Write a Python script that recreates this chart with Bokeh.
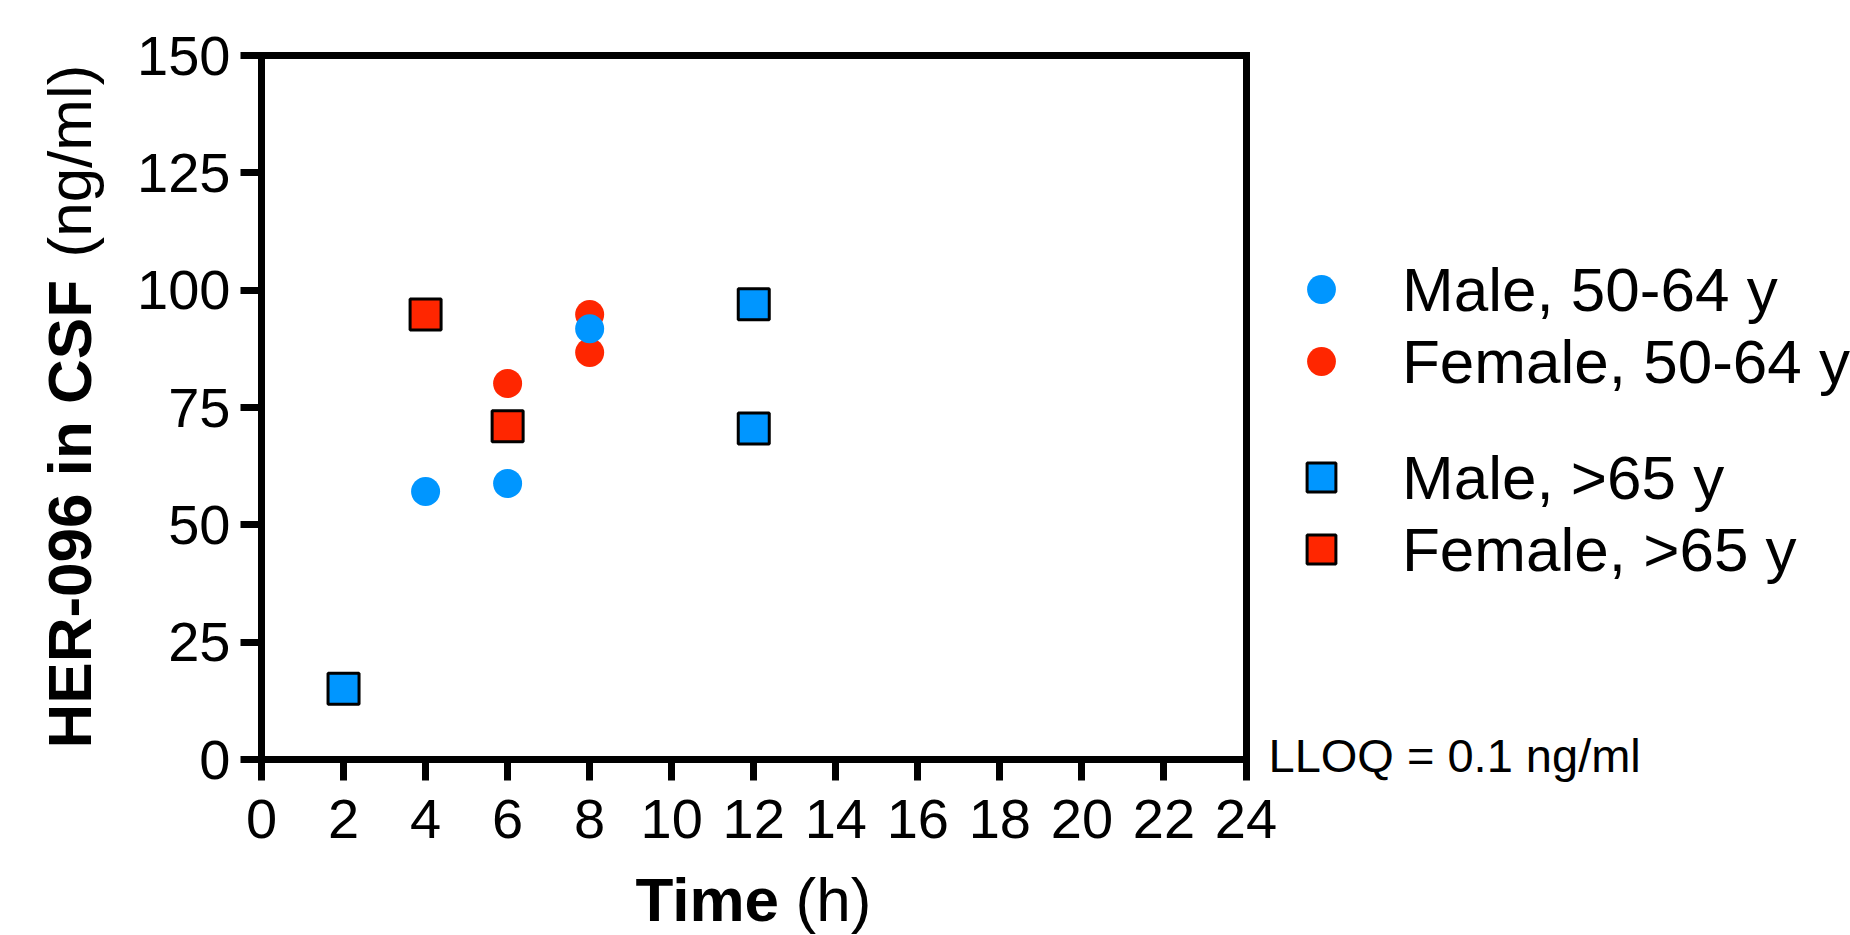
import math
from bokeh.plotting import figure
from bokeh.models import Range1d, FixedTicker, Label, Legend, LegendItem, LinearAxis
from bokeh.embed import file_html
from bokeh.resources import INLINE

# ---- data ----
male_young_t = [4, 6, 8]
male_young_c = [57.1, 58.8, 91.8]
female_young_t = [6, 8, 8]
female_young_c = [80.1, 94.8, 86.7]
male_old_t = [2, 12, 12]
male_old_c = [15.1, 97.0, 70.5]
female_old_t = [4, 6]
female_old_c = [94.8, 71.0]

x_ticks = [0, 2, 4, 6, 8, 10, 12, 14, 16, 18, 20, 22, 24]
y_ticks = [0, 25, 50, 75, 100, 125, 150]

series_labels = ["Male, 50-64 y", "Female, 50-64 y", "Male, >65 y", "Female, >65 y"]
y_title_bold = "HER-096 in CSF"
y_title_unit = "(ng/ml)"
x_title_bold = "Time"
x_title_unit = "(h)"
note = "LLOQ = 0.1 ng/ml"

BLUE = "#0096FF"
RED = "#FF2600"
FONT = "Liberation Sans"

# ---- layout (pixels) ----
W, H = 1850, 935
BOX_L, BOX_R, BOX_T, BOX_B = 261, 1245.5, 55, 759
XMIN, XMAX, YMIN, YMAX = 0, 24, 0, 150
kx = (BOX_R - BOX_L) / (XMAX - XMIN)
ky = (BOX_B - BOX_T) / (YMAX - YMIN)
LW = 7

p = figure(width=W, height=H, output_backend="svg", toolbar_location=None,
           x_range=Range1d(XMIN - BOX_L / kx, XMAX + (W - BOX_R) / kx),
           y_range=Range1d(YMIN - (H - BOX_B) / ky, YMAX + BOX_T / ky),
           min_border=0)
p.background_fill_color = "white"
p.border_fill_color = "white"
p.xgrid.visible = False
p.ygrid.visible = False
p.outline_line_color = None

xa = p.xaxis[0]
ya = p.yaxis[0]
xa.fixed_location = YMIN
ya.fixed_location = XMIN
xa.bounds = (XMIN, XMAX)
ya.bounds = (YMIN, YMAX)
for ax in (xa, ya):
    ax.axis_line_color = "black"
    ax.axis_line_cap = "square"
    ax.axis_line_width = LW
    ax.major_tick_line_color = "black"
    ax.major_tick_line_width = LW
    ax.major_tick_in = 0
    ax.major_tick_out = 21
    ax.minor_tick_in = 0
    ax.minor_tick_out = 0
    ax.major_label_text_font = FONT
    ax.major_label_text_font_size = "56px"
    ax.major_label_text_color = "black"
xa.ticker = FixedTicker(ticks=x_ticks)
ya.ticker = FixedTicker(ticks=y_ticks)
ya.major_label_standoff = 10
xa.major_label_standoff = 19

top = LinearAxis(fixed_location=YMAX, bounds=(XMIN, XMAX), ticker=FixedTicker(ticks=[]),
                 axis_line_width=LW, axis_line_color="black", axis_line_cap="square",
                 major_label_text_font_size="0px")
right = LinearAxis(fixed_location=XMAX, bounds=(YMIN, YMAX), ticker=FixedTicker(ticks=[]),
                   axis_line_width=LW, axis_line_color="black", axis_line_cap="square",
                   major_label_text_font_size="0px")
p.add_layout(top, "above")
p.add_layout(right, "right")

# draw order: female circles under male circles
r_fy = p.scatter(female_young_t, female_young_c, marker="circle", size=29,
                 fill_color=RED, line_color=None)
r_my = p.scatter(male_young_t, male_young_c, marker="circle", size=29,
                 fill_color=BLUE, line_color=None)
r_mo = p.scatter(male_old_t, male_old_c, marker="square", size=31,
                 fill_color=BLUE, line_color="black", line_width=3)
r_fo = p.scatter(female_old_t, female_old_c, marker="square", size=31,
                 fill_color=RED, line_color="black", line_width=3)

def make_legend(items, loc):
    lg = Legend(items=items, location=loc)
    lg.glyph_width = 72
    lg.glyph_height = 72
    lg.label_height = 72
    lg.label_standoff = 45
    lg.spacing = 0
    lg.padding = 0
    lg.margin = 0
    lg.border_line_color = None
    lg.background_fill_alpha = 0
    lg.label_text_font = FONT
    lg.label_text_font_size = "62px"
    lg.label_text_color = "black"
    return lg

leg1 = make_legend([LegendItem(label=series_labels[0], renderers=[r_my]),
                    LegendItem(label=series_labels[1], renderers=[r_fy])], (1285, H - 397))
leg2 = make_legend([LegendItem(label=series_labels[2], renderers=[r_mo]),
                    LegendItem(label=series_labels[3], renderers=[r_fo])], (1285, H - 585))
p.add_layout(leg1)
p.add_layout(leg2)

BASE_SHIFT = 0.435  # empirical shift of the alphabetic baseline, in em

def lab(text, x, y, size, bold=False, rotated=False):
    if rotated:
        x = x - BASE_SHIFT * size
    else:
        y = y - BASE_SHIFT * size
    return Label(x=x, y=H - y, x_units="screen", y_units="screen", text=text,
                 angle=math.pi / 2 if rotated else 0.0, text_font=FONT,
                 text_font_size=f"{size}px",
                 text_font_style="bold" if bold else "normal",
                 text_align="left", text_baseline="alphabetic", text_color="black")

p.add_layout(lab(y_title_bold, 96, 748, 62, True, True))
p.add_layout(lab(y_title_unit, 96, 257, 62, False, True))
p.add_layout(lab(x_title_bold, 635, 926, 62, True))
p.add_layout(lab(x_title_unit, 795, 926, 62, False))
p.add_layout(lab(note, 1268, 775, 47, False))

open("out.html", "w").write(file_html(p, INLINE))
